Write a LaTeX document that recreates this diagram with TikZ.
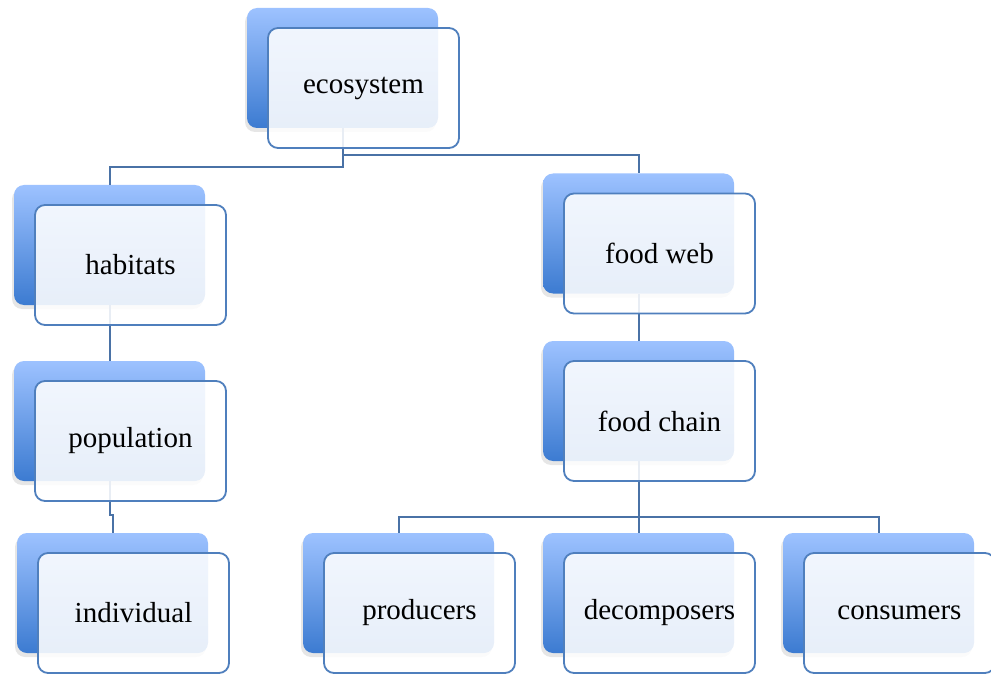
\documentclass[tikz,border=0pt]{standalone}
\usepackage{fontspec}
\setmainfont{Liberation Serif}
\usetikzlibrary{shadows}
\definecolor{cardtop}{HTML}{9DC2FF}
\definecolor{cardbot}{HTML}{3C7BD1}
\definecolor{cardline}{HTML}{4F7FBD}
\definecolor{linkline}{HTML}{4A72A6}

\begin{document}
\begin{tikzpicture}[x=0.5pt,y=-0.5pt,
  back card/.style={rectangle,rounded corners=5pt,minimum width=95.5pt,minimum height=60pt,top color=cardtop,bottom color=cardbot,drop shadow={shadow xshift=-1pt,shadow yshift=-2pt,opacity=0.2}},
  front card/.style={rectangle,rounded corners=5pt,draw=cardline,line width=0.9pt,fill=white,fill opacity=0.88,text opacity=1,minimum width=95.5pt,minimum height=60pt,font=\fontsize{14.5}{17}\selectfont},
  link/.style={draw=linkline,line width=1pt}]
  \useasboundingbox (0,0) rectangle (991,674);
  \clip (0,0) rectangle (991,674);

  % back cards
  \node[back card] (ecoB) at (342.5,68) {};
  \node[back card] (habB) at (109.5,245) {};
  \node[back card] (popB) at (109.5,421) {};
  \node[back card] (indB) at (112.5,593) {};
  \node[back card] (webB) at (638.5,233.5) {};
  \node[back card] (chainB) at (638.5,401) {};
  \node[back card] (prodB) at (398.5,593) {};
  \node[back card] (decB) at (638.5,593) {};
  \node[back card] (consB) at (878.5,593) {};

  % links
  \path[link] (ecoB.south) -- ++(0,39) -| (habB.north);
  \path[link] (ecoB.south) -- ++(0,27) -| (webB.north);
  \path[link] (habB.south) -- (popB.north);
  \path[link] (popB.south) -- ++(0,34) -| (indB.north);
  \path[link] (webB.south) -- (chainB.north);
  \path[link] (chainB.south) -- ++(0,56) -| (prodB.north);
  \path[link] (chainB.south) -- (decB.north);
  \path[link] (chainB.south) -- ++(0,56) -| (consB.north);

  % front cards
  \node[front card] (eco) at (363.5,88) {ecosystem};
  \node[front card] (hab) at (130.5,265) {habitats};
  \node[front card] (pop) at (130.5,441) {population};
  \node[front card] (ind) at (133.5,613) {individual};
  \node[front card] (web) at (659.5,253.5) {food web};
  \node[front card] (chain) at (659.5,421) {food chain};
  \node[front card] (prod) at (419.5,613) {producers};
  \node[front card] (dec) at (659.5,613) {decomposers};
  \node[front card] (cons) at (899.5,613) {consumers};
\end{tikzpicture}
\end{document}
